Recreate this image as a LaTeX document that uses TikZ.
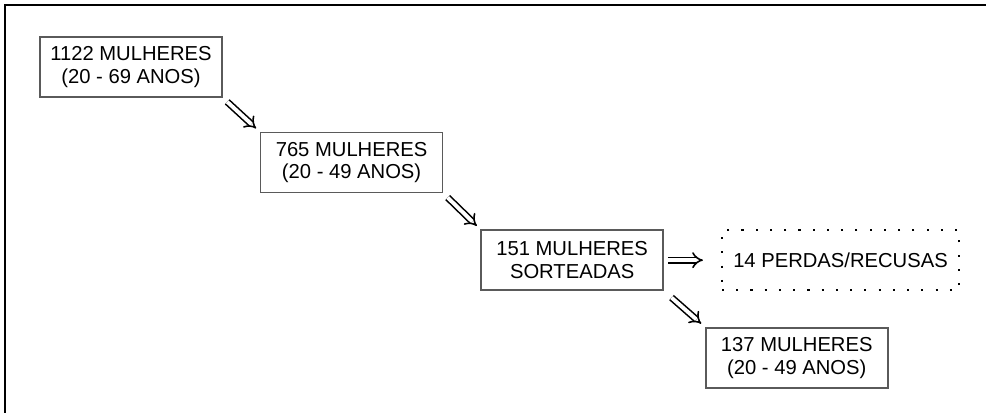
\documentclass[tikz,border=0pt]{standalone}
\usepackage{fontspec}
\setmainfont{Liberation Sans}
\usepackage{xcolor}
\usepackage{tikz}
\usetikzlibrary{arrows.meta, positioning}
\definecolor{boxgray}{HTML}{5A5A5A}
\tikzstyle{grpbox} = [draw=boxgray, rectangle, line width=0.9pt, minimum width=3.64cm, minimum height=1.2cm, align=center, inner sep=0pt, font=\fontsize{11.5}{13}\selectfont]
\tikzstyle{lossbox} = [grpbox, draw=black, line width=1.2pt, dash pattern=on 1.2pt off 6.9pt, minimum width=4.74cm]
\tikzstyle{arrw} = [double, double distance=2.2pt, line width=0.9pt, -{Implies}, shorten <=0.12cm, shorten >=0.1cm]

\begin{document}
\begin{tikzpicture}
    \useasboundingbox (0,0) rectangle (19.72,-8.26);
    \draw [line width=1.2pt] (19.72,-0.1) -- (0.1,-0.1) -- (0.1,-8.26);

    \node (m1122) [grpbox] at (2.62,-1.34) {1122 MULHERES\\(20 - 69 ANOS)};
    \node (m765) [grpbox, below right=0.68cm and 0.74cm of m1122] {765 MULHERES\\(20 - 49 ANOS)};
    \node (m151) [grpbox, below right=0.72cm and 0.74cm of m765] {151 MULHERES\\SORTEADAS};
    \node (perdas) [lossbox, right=1.14cm of m151] {14 PERDAS/RECUSAS};
    \node (m137) [grpbox, below right=0.72cm and 0.82cm of m151] {137 MULHERES\\(20 - 49 ANOS)};

    \draw [arrw] (m1122.south east) -- (m765.north west);
    \draw [arrw] (m765.south east) -- (m151.north west);
    \draw [arrw, shorten <=0.08cm, shorten >=0.36cm] (m151.east) -- (perdas.west);
    \draw [arrw, shorten <=0.2cm] (m151.south east) -- (m137.north west);
\end{tikzpicture}
\end{document}
